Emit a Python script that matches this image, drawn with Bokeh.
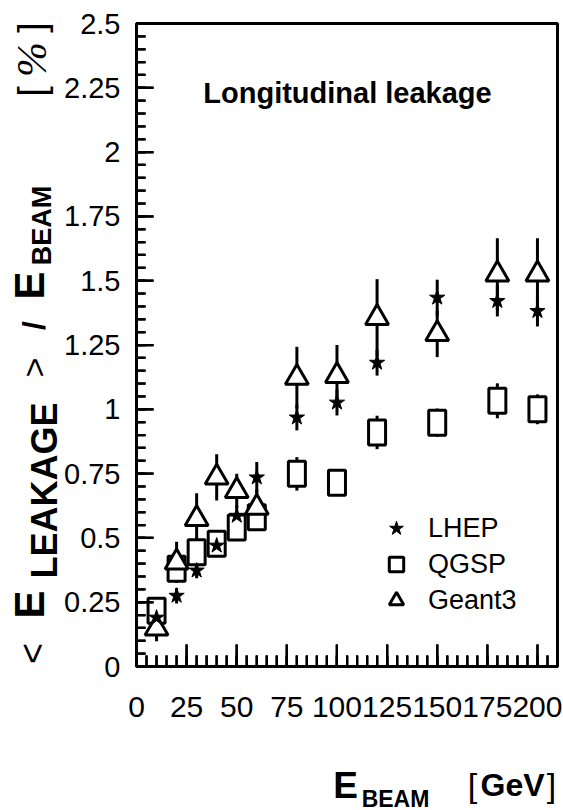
import numpy as np
from bokeh.plotting import figure
from bokeh.models import (Label, Legend, LegendItem, ColumnDataSource, Range1d,
                          SingleIntervalTicker, CustomJSTickFormatter, LinearAxis,
                          BoxAnnotation)
from bokeh.embed import file_html
from bokeh.resources import INLINE

# ---------------- data ----------------
energy = [10.0, 20.0, 30.0, 40.0, 50.0, 60.0, 80.0, 100.0, 120.0, 150.0, 180.0, 200.0]   # GeV

lhep = [0.19, 0.275, 0.373, 0.47, 0.586, 0.735, 0.968, 1.026, 1.181, 1.434, 1.421, 1.382]
lhep_err = [0.03, 0.03, 0.03, 0.03, 0.04, 0.06, 0.05, 0.05, 0.05, 0.07, 0.06, 0.06]

qgsp = [0.217, 0.38, 0.444, 0.477, 0.54, 0.58, 0.749, 0.714, 0.91, 0.948, 1.033, 1.0]
qgsp_err = [0.05, 0.05, 0.05, 0.04, 0.05, 0.05, 0.065, 0.05, 0.065, 0.055, 0.068, 0.058]

geant3 = [0.148, 0.405, 0.574, 0.735, 0.683, 0.618, 1.123, 1.13, 1.356, 1.293, 1.525, 1.525]
geant3_err = [0.05, 0.08, 0.10, 0.09, 0.066, 0.07, 0.12, 0.12, 0.15, 0.09, 0.14, 0.14]

series_names = ["LHEP", "QGSP", "Geant3"]
title_text = "Longitudinal leakage"

x_lim = (0.0, 210.0)
y_lim = (0.0, 2.5)
x_major_step, x_minor_step = 25.0, 5.0
y_major_step, y_minor_step = 0.25, 0.05

# ---------------- geometry of the drawing box (canvas pixels) ----------------
W, H = 563, 810
BOX_L, BOX_R, BOX_T, BOX_B = 136, 557, 23, 666
sx = (BOX_R - BOX_L) / (x_lim[1] - x_lim[0])     # px per GeV
sy = (BOX_B - BOX_T) / (y_lim[1] - y_lim[0])     # px per unit
x_range = Range1d(x_lim[0] - BOX_L / sx, x_lim[1] + (W - BOX_R) / sx)
y_range = Range1d(y_lim[0] - (H - BOX_B) / sy, y_lim[1] + BOX_T / sy)

SANS = "Liberation Sans, Arial, Helvetica, sans-serif"
SERIF = "Liberation Serif, Times New Roman, serif"

p = figure(width=W, height=H, output_backend="svg", toolbar_location=None,
           x_range=x_range, y_range=y_range,
           x_axis_location=None, y_axis_location=None,
           min_border_left=0, min_border_right=0, min_border_top=0,
           min_border_bottom=0)
p.outline_line_alpha = 0
p.xgrid.visible = False
p.ygrid.visible = False

xaxis = LinearAxis(fixed_location=0, bounds=x_lim,
                   ticker=SingleIntervalTicker(interval=x_major_step, num_minor_ticks=5))
yaxis = LinearAxis(fixed_location=0, bounds=y_lim,
                   ticker=SingleIntervalTicker(interval=y_major_step, num_minor_ticks=5),
                   formatter=CustomJSTickFormatter(
                       code="return String(Math.round(tick*100)/100)"))
for ax in (xaxis, yaxis):
    ax.axis_line_width = 3
    ax.axis_line_color = "black"
    ax.major_tick_out = 0
    ax.minor_tick_out = 0
    ax.major_tick_line_width = 2
    ax.minor_tick_line_width = 2
    ax.major_tick_line_color = "#000000"
    ax.minor_tick_line_color = "#000000"
    ax.major_label_text_font = SANS
    ax.major_label_text_color = "black"
xaxis.major_tick_in = 22
xaxis.minor_tick_in = 11
yaxis.major_tick_in = 17
yaxis.minor_tick_in = 9
xaxis.major_label_text_font_size = "30px"
yaxis.major_label_text_font_size = "29px"
xaxis.major_label_standoff = 30
yaxis.major_label_standoff = 16
p.add_layout(xaxis, "below")
p.add_layout(yaxis, "left")

# frame box
p.add_layout(BoxAnnotation(left=x_lim[0], right=x_lim[1], bottom=y_lim[0],
                           top=y_lim[1], fill_alpha=0, line_color="black",
                           line_width=3, line_alpha=1, level="underlay"))

# ---------------- error bars ----------------
def err_source(vals, errs):
    v = np.array(vals, dtype=float)
    e = np.array(errs, dtype=float)
    return ColumnDataSource(dict(x=np.array(energy, dtype=float), y=v,
                                 lo=v - e, hi=v + e))

src_l = err_source(lhep, lhep_err)
src_q = err_source(qgsp, qgsp_err)
src_g = err_source(geant3, geant3_err)

for s in (src_q, src_g, src_l):
    p.segment(x0="x", y0="lo", x1="x", y1="hi", source=s,
              line_color="black", line_width=3)

# ---------------- markers ----------------
r_q = p.rect(x="x", y="y", width=17, height=25, width_units="screen",
             height_units="screen", source=src_q, fill_color="white",
             line_color="black", line_width=3)
r_g = p.scatter(x="x", y="y", source=src_g, marker="triangle", size=23,
                fill_color="white", line_color="black", line_width=3)
r_l = p.scatter(x="x", y="y", source=src_l, marker="star", size=16,
                fill_color="black", line_color="black", line_width=1)
# legend-only proxy for the open squares
r_q_leg = p.scatter(x="x", y="y", source=src_q, marker="square", size=10,
                    fill_color="white", line_color="black", line_width=3,
                    visible=False)

legend = Legend(items=[LegendItem(label=series_names[0], renderers=[r_l]),
                       LegendItem(label=series_names[1], renderers=[r_q_leg]),
                       LegendItem(label=series_names[2], renderers=[r_g])],
                location=(376, H - 618))
legend.glyph_width = 40
legend.glyph_height = 36
legend.label_height = 36
legend.label_standoff = 12
legend.spacing = 0
legend.padding = 0
legend.margin = 0
legend.border_line_alpha = 0
legend.background_fill_alpha = 0
legend.label_text_font = SANS
legend.label_text_font_size = "27px"
legend.label_text_color = "black"
legend.label_text_baseline = "middle"
p.add_layout(legend)

# ---------------- texts ----------------
def lab(text, X, Y, size, font=SANS, style="normal", angle=0.0,
        baseline="middle", align="center"):
    p.add_layout(Label(x=X, y=H - Y, x_units="screen", y_units="screen",
                       text=text, text_font=font, text_font_size=f"{size}px",
                       text_font_style=style, text_align=align,
                       text_baseline=baseline, angle=angle, text_color="black"))


# title
lab(title_text, 347, 92, 29, style="bold", baseline="alphabetic")

# x-axis label
lab("E", 345, 785, 37, style="bold", baseline="alphabetic")
lab("BEAM", 395, 798, 23, style="bold", baseline="alphabetic")
lab("[", 472, 784, 34, baseline="alphabetic")
lab("GeV", 512, 784, 32, style="bold", baseline="alphabetic")
lab("]", 551, 784, 34, baseline="alphabetic")

# y-axis label (rotated pieces, read bottom to top)
A = np.pi / 2
lab("<", 32, 653, 36, angle=A)
lab("E", 29, 604, 42, style="bold", angle=A)
lab("LEAKAGE", 44, 490, 36, style="bold", angle=A)
lab(">", 33, 367, 34, angle=A)
lab("/", 33, 325, 32, style="bold", angle=A)
lab("E", 29, 285, 42, style="bold", angle=A)
lab("BEAM", 41, 225, 27, style="bold", angle=A)
lab("[", 31, 91, 38, angle=A)
lab("%", 31, 59, 42, font=SERIF, style="italic", angle=A)
lab("]", 31, 27, 38, angle=A)

# ---------------- inward tick marks, painted last (lengths in pixels) ----------------
def tick_source(step, px_len, along_x):
    lim = x_lim if along_x else y_lim
    vals = np.arange(lim[0], lim[1] + 1e-9, step, dtype=float)
    n = len(vals)
    if along_x:
        return ColumnDataSource(dict(
            x0=vals, y0=np.full(n, y_lim[0], dtype=float),
            x1=vals, y1=np.full(n, y_lim[0] + px_len / sy, dtype=float),
            xc=vals, yc=np.full(n, y_lim[0] + 0.5 * px_len / sy, dtype=float),
            w=np.full(n, 2.0), h=np.full(n, float(px_len))))
    return ColumnDataSource(dict(
        x0=np.full(n, x_lim[0], dtype=float), y0=vals,
        x1=np.full(n, x_lim[0] + px_len / sx, dtype=float), y1=vals,
        xc=np.full(n, x_lim[0] + 0.5 * px_len / sx, dtype=float), yc=vals,
        w=np.full(n, float(px_len)), h=np.full(n, 2.0)))

for step, px_len, along_x in ((x_minor_step, 11, True), (x_major_step, 22, True),
                              (y_minor_step, 9, False), (y_major_step, 17, False)):
    ts = tick_source(step, px_len, along_x)
    p.segment(x0="x0", y0="y0", x1="x1", y1="y1", source=ts,
              line_color="#000000", line_width=2, level="annotation")
    p.rect(x="xc", y="yc", width="w", height="h", width_units="screen",
           height_units="screen", source=ts, fill_color="#000000",
           line_alpha=0, level="annotation")

open("out.html", "w").write(file_html(p, INLINE))
